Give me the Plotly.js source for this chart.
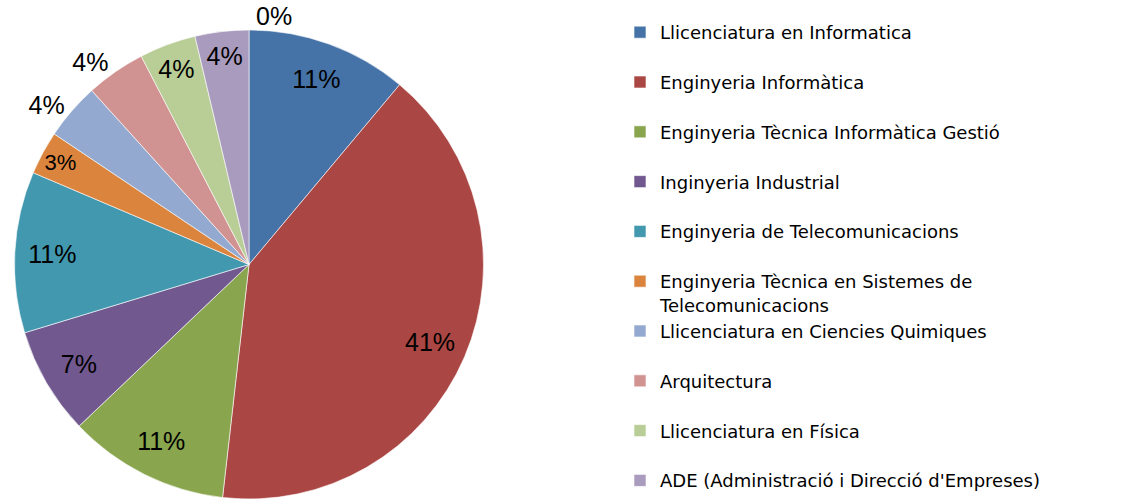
<!DOCTYPE html>
<html>
<head>
<meta charset="utf-8">
<script src="https://cdn.plot.ly/plotly-3.0.1.min.js"></script>
<style>html,body{margin:0;padding:0;background:#fff;}#chart{width:1126px;height:499px;}</style>
</head>
<body>
<div id="chart"></div>
<script>
// ---- data ----
const categories = [
  "Llicenciatura en Informatica",
  "Enginyeria Informàtica",
  "Enginyeria Tècnica Informàtica Gestió",
  "Inginyeria Industrial",
  "Enginyeria de Telecomunicacions",
  "Enginyeria Tècnica en Sistemes de Telecomunicacions",
  "Llicenciatura en Ciencies Quimiques",
  "Arquitectura",
  "Llicenciatura en Física",
  "ADE (Administració i Direcció d'Empreses)"
];
const shares = [11.1, 40.7, 11.1, 7.4, 11.1, 3.0, 3.9, 4.1, 3.9, 3.7];
// an eleventh category with no students (only its "0%" label is visible)
const emptyCategoryShare = [0];

// ---- styling ----
const colors = ['#4572A7','#AA4643','#89A54E','#71588F','#4198AF','#DB843D','#93A9CF','#D19392','#B9CD96','#A99BBD'];
const outsideIdx = new Set([6, 7, 10]);

function wrap(s, maxLen) {
  const words = s.split(' ');
  const lines = [];
  let cur = '';
  words.forEach(w => {
    if (cur && (cur + ' ' + w).length > maxLen) { lines.push(cur); cur = w; }
    else cur = cur ? cur + ' ' + w : w;
  });
  lines.push(cur);
  return lines;
}
const legendLabels = categories.map((c, i) => {
  const lines = wrap(c, 42);
  if (lines.length < 2 && i < categories.length - 1) lines.push('\u00a0');
  return lines.join('<br>');
});

const domain = {x: [14.5/1126, 483.5/1126], y: [0, (499-30)/499]};
const labelFont = {family: 'Liberation Sans, Arial, sans-serif', size: 25, color: '#000'};

// slices + legend
const mainPie = {
  type: 'pie',
  labels: legendLabels,
  values: shares,
  sort: false,
  direction: 'clockwise',
  rotation: 0,
  domain: domain,
  marker: {colors: colors, line: {color: '#ffffff', width: 0.6}},
  textinfo: 'none',
  hoverinfo: 'label+percent'
};

// transparent ring that carries the percentage labels near the rim
const allShares = shares.concat(emptyCategoryShare);
const labelPie = {
  type: 'pie',
  values: allShares,
  sort: false,
  direction: 'clockwise',
  rotation: 0,
  domain: domain,
  hole: 0.68,
  showlegend: false,
  marker: {colors: allShares.map(() => 'rgba(0,0,0,0)'), line: {width: 0}},
  texttemplate: '%{percent:.0%}',
  textposition: allShares.map((v, i) => outsideIdx.has(i) ? 'outside' : 'inside'),
  insidetextorientation: 'horizontal',
  textfont: labelFont,
  insidetextfont: labelFont,
  outsidetextfont: labelFont,
  hoverinfo: 'skip'
};

const layout = {
  width: 1126,
  height: 499,
  margin: {l: 0, r: 0, t: 0, b: 0},
  paper_bgcolor: '#ffffff',
  showlegend: true,
  legend: {
    x: 620/1126, xanchor: 'left',
    y: 1 - 16.3/499, yanchor: 'top',
    valign: 'top',
    font: {family: 'DejaVu Sans, sans-serif', size: 18, color: '#000'},
    bgcolor: 'rgba(0,0,0,0)',
    traceorder: 'normal'
  }
};

Plotly.newPlot('chart', [mainPie, labelPie], layout, {displayModeBar: false, staticPlot: true});
</script>
</body>
</html>
